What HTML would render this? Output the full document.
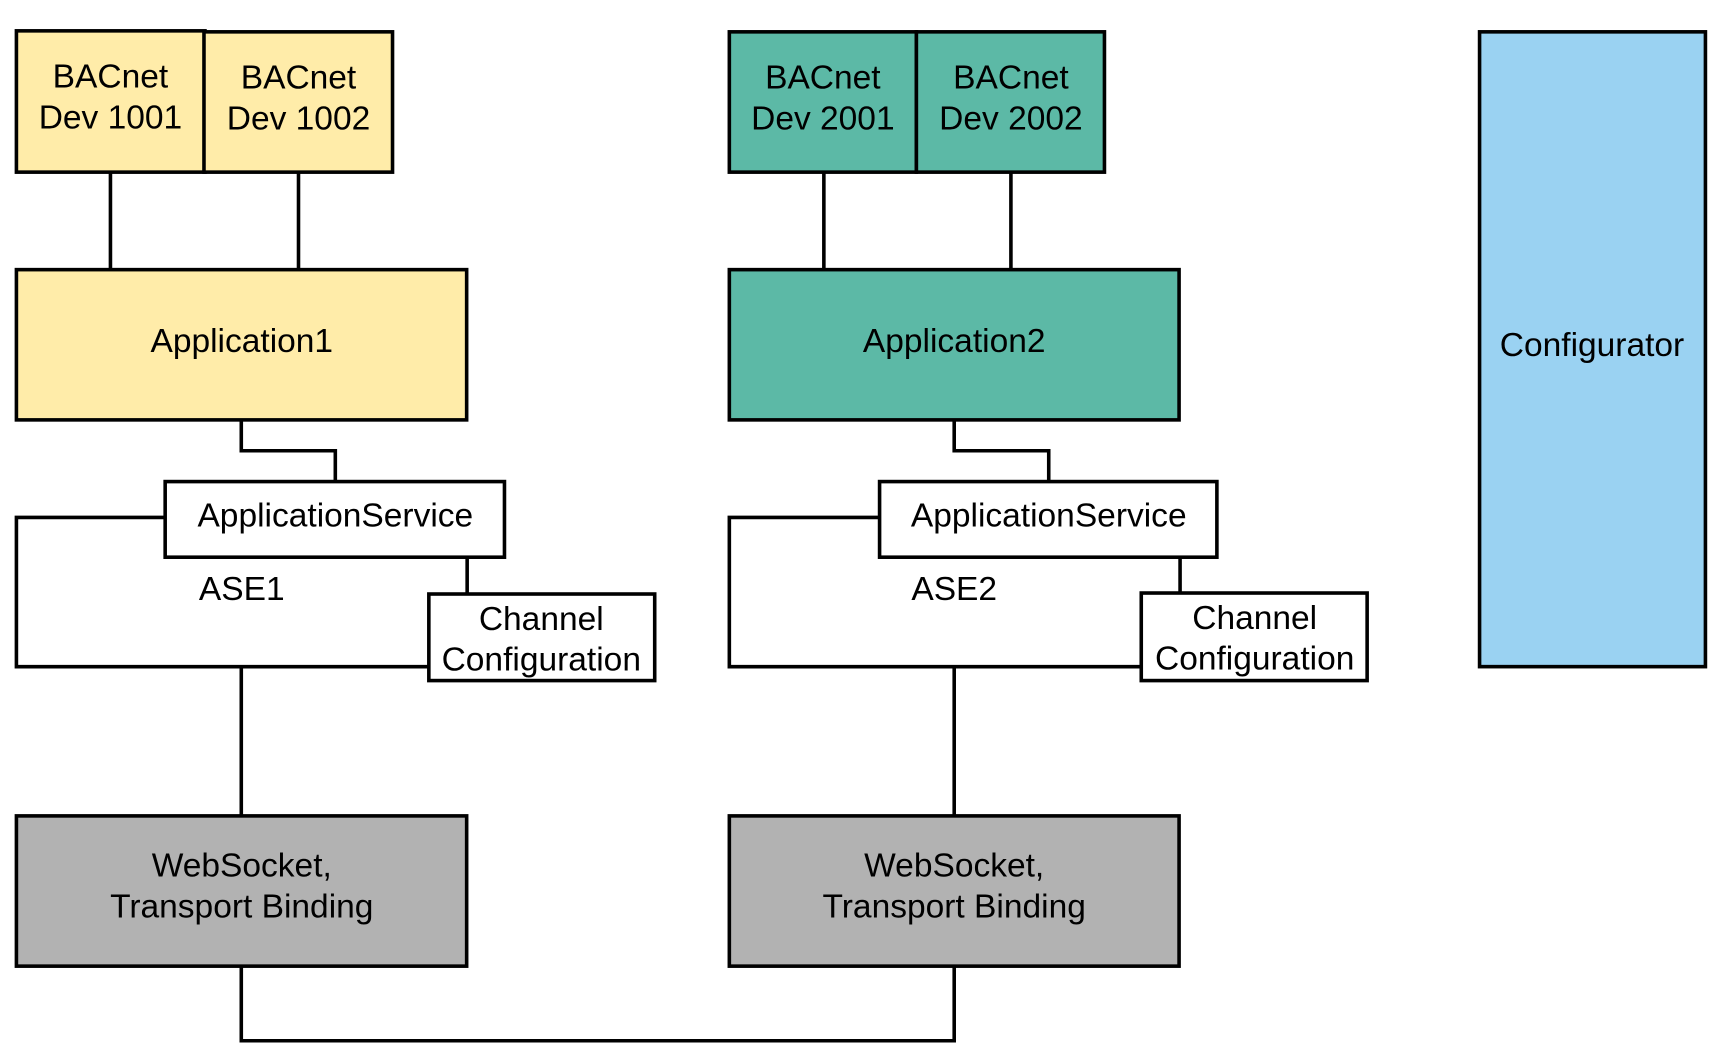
<!DOCTYPE html>
<html><head><meta charset="utf-8"><style>
html,body{margin:0;padding:0;background:#fff;}
svg{display:block}
text{font-family:"Liberation Sans",sans-serif;font-size:33.7px;fill:#000;text-anchor:middle;}
</style></head><body>
<svg width="1719" height="1052" viewBox="0 0 1719 1052" xmlns="http://www.w3.org/2000/svg">
<g transform="scale(0.995)">
<g stroke="#000" stroke-width="3.6" fill="none">
<line x1="111" y1="173" x2="111" y2="271"/>
<line x1="300" y1="173" x2="300" y2="271"/>
<polyline points="242.5,422 242.5,453 337,453 337,484"/>
<polyline points="166,520 16.5,520 16.5,670 431,670"/>
<line x1="469.5" y1="560" x2="469.5" y2="597"/>
<line x1="242.5" y1="670" x2="242.5" y2="820"/>
<polyline points="242.5,971 242.5,1046 959,1046 959,971"/>
<line x1="828" y1="173" x2="828" y2="271"/>
<line x1="1016" y1="173" x2="1016" y2="271"/>
<polyline points="959,422 959,453 1054,453 1054,484"/>
<polyline points="884,520 733,520 733,670 1147,670"/>
<line x1="1186" y1="560" x2="1186" y2="596"/>
<line x1="959" y1="670" x2="959" y2="820"/>
</g>
<g stroke="#000" stroke-width="3.6">
<rect x="16.5" y="31" width="189.5" height="142" fill="#FFECA9"/>
<rect x="205" y="32" width="189.5" height="141" fill="#FFECA9"/>
<rect x="16.5" y="271" width="452.5" height="151" fill="#FFECA9"/>
<rect x="166" y="484" width="341" height="76" fill="#fff"/>
<rect x="431" y="597" width="227" height="87" fill="#fff"/>
<rect x="16.5" y="820" width="452.5" height="151" fill="#B2B2B2"/>
<rect x="733" y="32" width="188" height="141" fill="#5CB9A6"/>
<rect x="921" y="32" width="189" height="141" fill="#5CB9A6"/>
<rect x="733" y="271" width="452" height="151" fill="#5CB9A6"/>
<rect x="884" y="484" width="339" height="76" fill="#fff"/>
<rect x="1147" y="596" width="227" height="88" fill="#fff"/>
<rect x="733" y="820" width="452" height="151" fill="#B2B2B2"/>
<rect x="1487" y="32" width="227" height="638" fill="#9AD2F2"/>
</g>
<text x="111" y="88">BACnet</text><text x="111" y="129">Dev 1001</text>
<text x="300" y="89">BACnet</text><text x="300" y="130">Dev 1002</text>
<text x="243" y="354">Application1</text>
<text x="337" y="529">ApplicationService</text>
<text x="243" y="603">ASE1</text>
<text x="544" y="633">Channel</text><text x="544" y="674">Configuration</text>
<text x="243" y="881">WebSocket,</text><text x="243" y="922">Transport Binding</text>
<text x="827" y="89">BACnet</text><text x="827" y="130">Dev 2001</text>
<text x="1016" y="89">BACnet</text><text x="1016" y="130">Dev 2002</text>
<text x="959" y="354">Application2</text>
<text x="1054" y="529">ApplicationService</text>
<text x="959" y="603">ASE2</text>
<text x="1261" y="632">Channel</text><text x="1261" y="673">Configuration</text>
<text x="959" y="881">WebSocket,</text><text x="959" y="922">Transport Binding</text>
<text x="1600" y="358">Configurator</text>
</g>
</svg>
</body></html>
